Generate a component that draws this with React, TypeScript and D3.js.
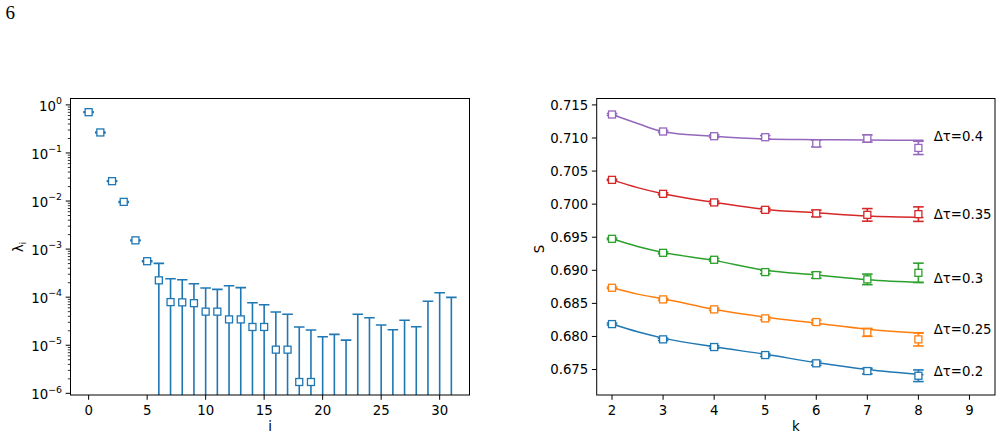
import React from "react";
import * as d3 from "d3";

// ---------- left panel: eigenvalue spectrum ----------
const eigIndex = d3.range(0, 32);
const lambdaVals = [
  0.705, 0.267, 0.0259, 0.0096, 0.00152, 5.6e-4, 2.24e-4, 7.9e-5, 7.8e-5, 7.5e-5,
  5.0e-5, 5.0e-5, 3.45e-5, 3.45e-5, 2.4e-5, 2.4e-5, 8.1e-6, 8.1e-6, 1.72e-6, 1.72e-6,
  0, 0, 0, 0, 0, 0, 0, 0, 0, 0, 0, 0,
];
const lambdaErr = [
  0.012, 0.005, 0.0005, 0.0002, 3e-5, 1e-5, 2.8e-4, 1.62e-4, 1.52e-4, 1.15e-4,
  1.05e-4, 9.5e-5, 1.385e-4, 1.235e-4, 5.25e-5, 4.55e-5, 4.09e-5, 3.59e-5, 2.23e-5, 1.9e-5,
  1.5e-5, 1.68e-5, 1.28e-5, 4.4e-5, 3.73e-5, 2.63e-5, 2.1e-5, 3.3e-5, 2.43e-5, 8.2e-5,
  1.24e-4, 9.9e-5,
];
const leftXTicks = [0, 5, 10, 15, 20, 25, 30];
const leftYExponents = [0, -1, -2, -3, -4, -5, -6];

// ---------- right panel: S versus k ----------
const kValues = [2, 3, 4, 5, 6, 7, 8];
const rightXTicks = [2, 3, 4, 5, 6, 7, 8, 9];
const rightYTicks = [0.675, 0.68, 0.685, 0.69, 0.695, 0.7, 0.705, 0.71, 0.715];

const seriesNames = ["Δτ=0.2", "Δτ=0.25", "Δτ=0.3", "Δτ=0.35", "Δτ=0.4"];
const seriesColors = ["#1f77b4", "#ff7f0e", "#2ca02c", "#d62728", "#9467bd"];

const sTau02 = [0.68187, 0.67956, 0.6784, 0.67719, 0.67594, 0.67477, 0.67406];
const sTau025 = [0.68736, 0.6856, 0.68409, 0.68273, 0.68218, 0.68062, 0.67956];
const sTau03 = [0.69476, 0.69264, 0.69159, 0.68973, 0.68927, 0.68863, 0.68962];
const sTau035 = [0.70367, 0.70156, 0.70026, 0.69914, 0.6986, 0.69838, 0.69849];
const sTau04 = [0.71355, 0.71098, 0.71027, 0.71012, 0.70917, 0.70992, 0.7085];

const errTau02 = [0.00015, 0.00018, 0.0002, 0.00022, 0.0003, 0.00043, 0.00088];
const errTau025 = [0.00012, 0.00015, 0.00018, 0.00022, 0.0003, 0.0006, 0.001];
const errTau03 = [0.00012, 0.00015, 0.0002, 0.00025, 0.00045, 0.0008, 0.00146];
const errTau035 = [0.0001, 0.00015, 0.0002, 0.00025, 0.0005, 0.00095, 0.0011];
const errTau04 = [0.00015, 0.00015, 0.0002, 0.00025, 0.0005, 0.00055, 0.001];

// fitted curves, sampled at these k
const fitK = [2, 2.5, 3, 4, 5, 6, 7, 8.1];
const fitTau02 = [0.68187, 0.6807, 0.67975, 0.67843, 0.6773, 0.67605, 0.675, 0.6742];
const fitTau025 = [0.68736, 0.6864, 0.6857, 0.6841, 0.6829, 0.682, 0.6811, 0.68047];
const fitTau03 = [0.69476, 0.6936, 0.6927, 0.6915, 0.69, 0.6893, 0.68857, 0.68815];
const fitTau035 = [0.70367, 0.7025, 0.70156, 0.70026, 0.6992, 0.6987, 0.6982, 0.698];
const fitTau04 = [0.71355, 0.7122, 0.71095, 0.71025, 0.70985, 0.70975, 0.70968, 0.70965];

// label anchor heights for the Δτ annotations
const labelK = 8.3;
const labelS = [0.67482, 0.68108, 0.68878, 0.6985, 0.71027];

const seriesS = [sTau02, sTau025, sTau03, sTau035, sTau04];
const seriesErr = [errTau02, errTau025, errTau03, errTau035, errTau04];
const seriesFit = [fitTau02, fitTau025, fitTau03, fitTau035, fitTau04];

const W = 1003;
const H = 438;
const FONT = "'DejaVu Sans', sans-serif";
const FS = 13.3;
const SUP = 9.4;
const MARK = 7;
const CAP = 10.6;
const TICK = 4.8;

const L = { x0: 70.5, x1: 469.5, y0: 98.5, y1: 395 };
const R = { x0: 596.7, x1: 995, y0: 98.5, y1: 395 };

const xL = d3.scaleLinear().domain([-1.55, 32.55]).range([L.x0, L.x1]);
const yL = d3.scaleLog().domain([Math.pow(10, -6.035), Math.pow(10, 0.133)]).range([L.y1, L.y0]);

const xR = d3.scaleLinear().domain([1.7, 9.5]).range([R.x0, R.x1]);
const yR = d3.scaleLinear().domain([0.67115, 0.71597]).range([R.y1, R.y0]);

function ErrorMark({ cx, yTop, yBot, cy, color, showMarker, botCap }: any) {
  return (
    <g>
      <line x1={cx} x2={cx} y1={yTop} y2={yBot} stroke={color} strokeWidth={1.6} />
      <line x1={cx - CAP / 2} x2={cx + CAP / 2} y1={yTop} y2={yTop} stroke={color} strokeWidth={1.6} />
      {botCap && (
        <line x1={cx - CAP / 2} x2={cx + CAP / 2} y1={yBot} y2={yBot} stroke={color} strokeWidth={1.6} />
      )}
      {showMarker && (
        <rect
          x={cx - MARK / 2}
          y={cy - MARK / 2}
          width={MARK}
          height={MARK}
          fill="white"
          stroke={color}
          strokeWidth={1.3}
        />
      )}
    </g>
  );
}

function LeftPanel() {
  const color = seriesColors[0];
  const [dLo, dHi] = yL.domain();
  const minor: number[] = [];
  for (let e = -7; e <= 0; e++) {
    for (let m = 2; m <= 9; m++) {
      const v = m * Math.pow(10, e);
      if (v >= dLo && v <= dHi) minor.push(v);
    }
  }
  return (
    <g>
      <defs>
        <clipPath id="clipL">
          <rect x={L.x0} y={L.y0} width={L.x1 - L.x0} height={L.y1 - L.y0} />
        </clipPath>
      </defs>
      <g clipPath="url(#clipL)">
        {eigIndex.map((i) => {
          const v = lambdaVals[i];
          const e = lambdaErr[i];
          const hi = v + e;
          const lo = v - e;
          const yTop = yL(hi);
          const yBot = lo > dLo ? yL(lo) : L.y1 + 2;
          return (
            <ErrorMark
              key={i}
              cx={xL(i)}
              yTop={yTop}
              yBot={yBot}
              cy={v > 0 ? yL(v) : 0}
              color={color}
              showMarker={v > 0}
              botCap={lo > dLo}
            />
          );
        })}
      </g>
      <rect x={L.x0} y={L.y0} width={L.x1 - L.x0} height={L.y1 - L.y0} fill="none" stroke="black" strokeWidth={1} />
      {leftXTicks.map((t) => (
        <g key={t}>
          <line x1={xL(t)} x2={xL(t)} y1={L.y1} y2={L.y1 + TICK} stroke="black" strokeWidth={1} />
          <text x={xL(t)} y={L.y1 + 19.5} textAnchor="middle" fontSize={FS} fontFamily={FONT}>
            {t}
          </text>
        </g>
      ))}
      {minor.map((v, j) => (
        <line key={j} x1={L.x0} x2={L.x0 - 2.7} y1={yL(v)} y2={yL(v)} stroke="black" strokeWidth={0.8} />
      ))}
      {leftYExponents.map((ex) => {
        const y = yL(Math.pow(10, ex));
        return (
          <g key={ex}>
            <line x1={L.x0} x2={L.x0 - TICK} y1={y} y2={y} stroke="black" strokeWidth={1} />
            <text x={L.x0 - 8.5} y={y + 5.7} textAnchor="end" fontSize={FS} fontFamily={FONT}>
              10
              <tspan fontSize={SUP} dy={-6.5}>
                {ex === 0 ? "0" : "−" + Math.abs(ex)}
              </tspan>
            </text>
          </g>
        );
      })}
      <text x={(L.x0 + L.x1) / 2} y={431} textAnchor="middle" fontSize={FS} fontFamily={FONT}>
        i
      </text>
      <text transform={`translate(22.5, 247) rotate(-90)`} textAnchor="middle" fontSize={FS} fontFamily={FONT}>
        λ<tspan fontSize={SUP} dy={3}>i</tspan>
      </text>
    </g>
  );
}

function RightPanel() {
  const line = d3
    .line<[number, number]>()
    .x((d) => xR(d[0]))
    .y((d) => yR(d[1]))
    .curve(d3.curveMonotoneX);
  return (
    <g>
      {seriesNames.map((name, s) => {
        const color = seriesColors[s];
        const pts = fitK.map((k, j) => [k, seriesFit[s][j]] as [number, number]);
        return (
          <g key={name}>
            <path d={line(pts) || ""} fill="none" stroke={color} strokeWidth={1.5} />
            {kValues.map((k, j) => {
              const v = seriesS[s][j];
              const e = seriesErr[s][j];
              return (
                <ErrorMark
                  key={k}
                  cx={xR(k)}
                  yTop={yR(v + e)}
                  yBot={yR(v - e)}
                  cy={yR(v)}
                  color={color}
                  showMarker={true}
                  botCap={true}
                />
              );
            })}
            <text x={xR(labelK)} y={yR(labelS[s]) + 4.8} fontSize={FS} fontFamily={FONT}>
              {name}
            </text>
          </g>
        );
      })}
      <rect x={R.x0} y={R.y0} width={R.x1 - R.x0} height={R.y1 - R.y0} fill="none" stroke="black" strokeWidth={1} />
      {rightXTicks.map((t) => (
        <g key={t}>
          <line x1={xR(t)} x2={xR(t)} y1={R.y1} y2={R.y1 + TICK} stroke="black" strokeWidth={1} />
          <text x={xR(t)} y={R.y1 + 19.5} textAnchor="middle" fontSize={FS} fontFamily={FONT}>
            {t}
          </text>
        </g>
      ))}
      {rightYTicks.map((t) => (
        <g key={t}>
          <line x1={R.x0} x2={R.x0 - TICK} y1={yR(t)} y2={yR(t)} stroke="black" strokeWidth={1} />
          <text x={R.x0 - 8.4} y={yR(t) + 4.8} textAnchor="end" fontSize={FS} fontFamily={FONT}>
            {d3.format(".3f")(t)}
          </text>
        </g>
      ))}
      <text x={(R.x0 + R.x1) / 2} y={431} textAnchor="middle" fontSize={FS} fontFamily={FONT}>
        k
      </text>
      <text transform={`translate(543.5, 249) rotate(-90)`} textAnchor="middle" fontSize={FS} fontFamily={FONT}>
        S
      </text>
    </g>
  );
}

export default function App() {
  return (
    <svg
      width={W}
      height={H}
      viewBox={`0 0 ${W} ${H}`}
      style={{ position: "absolute", left: 0, top: 0, background: "white" }}
    >
      <rect width={W} height={H} fill="white" />
      <text x={5.5} y={19.3} fontSize={19} fontFamily="'Liberation Serif', serif">
        6
      </text>
      <LeftPanel />
      <RightPanel />
    </svg>
  );
}
